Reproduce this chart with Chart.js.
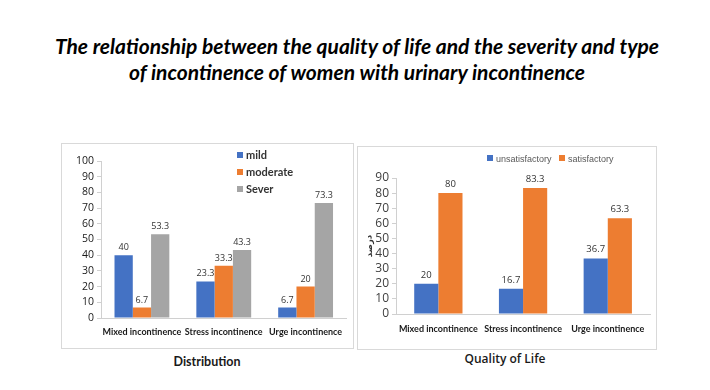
<!DOCTYPE html>
<html>
<head>
<meta charset="utf-8">
<script src="https://cdn.jsdelivr.net/npm/chart.js@4.4.0/dist/chart.umd.min.js"></script>
<style>
  html, body { margin: 0; padding: 0; background: #fff; }
  body { width: 710px; height: 390px; position: relative; overflow: hidden; font-family: Lato, "Open Sans", sans-serif; }
  .title { position: absolute; left: 0; width: 714px; text-align: center; font-weight: bold; font-style: italic; font-size: 21px; color: #000; line-height: 26px; top: 33px; }
  .panel { position: absolute; border: 1.5px solid #d9d9d9; box-sizing: border-box; }
  .panel canvas { position: absolute; left: 0; top: 0; }
  .caption { position: absolute; font-weight: bold; font-size: 12.5px; color: #1a1a1a; transform: translateX(-50%); white-space: nowrap; }
  .legend { position: absolute; font-size: 11px; font-weight: bold; color: #333; }
  .legend .item { position: absolute; white-space: nowrap; }
  .legend .sw { display: inline-block; width: 6px; height: 6px; margin-right: 3px; vertical-align: 1px; }
</style>
</head>
<body>
<div class="title">The relationship between the quality of life and the severity and type<br>of incontinence of women with urinary incontinence</div>

<div class="panel" id="leftPanel" style="left:61px; top:143px; width:293px; height:206px;">
  <canvas id="severityChart"></canvas>
  <div class="legend" id="severityLegend"></div>
</div>
<div class="panel" id="rightPanel" style="left:357px; top:146px; width:300px; height:204px;">
  <canvas id="qolChart"></canvas>
  <div class="legend" id="qolLegend"></div>
</div>

<div class="caption" style="left:207px; top:354px;">Distribution</div>
<div class="caption" style="left:505px; top:350px; font-weight:600; font-family:'Open Sans', sans-serif; font-size:12px;">Quality of Life</div>

<script>
const categories = ["Mixed incontinence", "Stress incontinence", "Urge incontinence"];

const severityLabels = ["mild", "moderate", "Sever"];
const mildValues = [40, 23.3, 6.7];
const moderateValues = [6.7, 33.3, 20];
const severValues = [53.3, 43.3, 73.3];

const qolLabels = ["unsatisfactory", "satisfactory"];
const unsatisfactoryValues = [20, 16.7, 36.7];
const satisfactoryValues = [80, 83.3, 63.3];

const colors = {
  blue: "#4472C4",
  orange: "#ED7D31",
  gray: "#A5A5A5",
};

// draws the value above each bar, like the excel data labels
const valueLabels = {
  id: "valueLabels",
  afterDatasetsDraw(chart, args, opts) {
    const ctx = chart.ctx;
    ctx.save();
    ctx.font = opts.font;
    ctx.fillStyle = opts.color;
    ctx.textAlign = "center";
    ctx.textBaseline = "bottom";
    chart.data.datasets.forEach((ds, i) => {
      chart.getDatasetMeta(i).data.forEach((bar, j) => {
        ctx.fillText(String(ds.data[j]), bar.x, bar.y - opts.offset);
      });
    });
    ctx.restore();
  },
};

function buildLegend(el, labels, swatches, positions) {
  labels.forEach((label, i) => {
    const item = document.createElement("div");
    item.className = "item";
    item.style.left = positions[i][0] + "px";
    item.style.top = positions[i][1] + "px";
    item.innerHTML = `<span class="sw" style="background:${swatches[i]}"></span>${label}`;
    el.appendChild(item);
  });
}

function makeChart(canvas, cfg) {
  canvas.width = cfg.width;
  canvas.height = cfg.height;
  canvas.style.width = cfg.width + "px";
  canvas.style.height = cfg.height + "px";

  return new Chart(canvas, {
    type: "bar",
    data: {
      labels: categories,
      datasets: cfg.datasets.map((d) => ({
        label: d.label,
        data: d.data,
        backgroundColor: d.color,
        borderWidth: 0,
        categoryPercentage: cfg.categoryPercentage,
        barPercentage: 1,
      })),
    },
    plugins: [valueLabels],
    options: {
      responsive: false,
      animation: false,
      devicePixelRatio: 1,
      layout: { padding: cfg.padding },
      plugins: {
        legend: { display: false },
        tooltip: { enabled: false },
        valueLabels: cfg.valueLabels,
      },
      scales: {
        x: {
          grid: { display: false, drawTicks: false },
          border: { color: "#d0d0d0", width: 1 },
          ticks: {
            padding: cfg.xPadding,
            color: "#1a1a1a",
            font: { family: "Lato", size: cfg.xFontSize, weight: "bold" },
            maxRotation: 0,
            autoSkip: false,
          },
          afterFit: (scale) => { scale.height = cfg.xHeight; },
        },
        y: {
          min: 0,
          max: cfg.yMax,
          grid: { display: true, drawOnChartArea: false, drawTicks: true, tickLength: 4, color: "#d0d0d0" },
          border: { color: "#d0d0d0", width: 1 },
          ticks: {
            stepSize: 10,
            autoSkip: false,
            padding: 3,
            color: cfg.yColor,
            font: { family: "Open Sans", size: cfg.yFontSize },
          },
          title: cfg.yTitle,
          afterFit: (scale) => { scale.width = cfg.yWidth; },
        },
      },
    },
  });
}

makeChart(document.querySelector("#severityChart"), {
  width: 290,
  height: 203,
  padding: { left: 0, right: 5, top: 17, bottom: 0 },
  categoryPercentage: 0.67,
  yMax: 100,
  yWidth: 39,
  yFontSize: 10.5,
  yColor: "#1a1a1a",
  yTitle: { display: false },
  xHeight: 29,
  xPadding: 9,
  xFontSize: 9,
  valueLabels: { font: "9px 'Open Sans'", color: "#333", offset: 3 },
  datasets: [
    { label: severityLabels[0], data: mildValues, color: colors.blue },
    { label: severityLabels[1], data: moderateValues, color: colors.orange },
    { label: severityLabels[2], data: severValues, color: colors.gray },
  ],
});

makeChart(document.querySelector("#qolChart"), {
  width: 297,
  height: 201,
  padding: { left: 0, right: 4, top: 31, bottom: 0 },
  categoryPercentage: 0.57,
  yMax: 90,
  yWidth: 38,
  yFontSize: 12,
  yColor: "#404040",
  yTitle: {
    display: true,
    text: "درصد",
    color: "#333",
    font: { family: "DejaVu Sans", size: 8.5, weight: "bold" },
    padding: { top: 7, bottom: 0 },
  },
  xHeight: 34,
  xPadding: 10,
  xFontSize: 9,
  valueLabels: { font: "9.5px 'Open Sans'", color: "#333", offset: 4 },
  datasets: [
    { label: qolLabels[0], data: unsatisfactoryValues, color: colors.blue },
    { label: qolLabels[1], data: satisfactoryValues, color: colors.orange },
  ],
});

buildLegend(document.querySelector("#severityLegend"), severityLabels,
  [colors.blue, colors.orange, colors.gray], [[175, 4], [175, 21], [175, 38]]);

const qolLegend = document.querySelector("#qolLegend");
qolLegend.style.fontWeight = "normal";
qolLegend.style.fontSize = "9px";
qolLegend.style.color = "#595959";
qolLegend.style.fontFamily = "'Liberation Sans', sans-serif";
buildLegend(qolLegend, qolLabels, [colors.blue, colors.orange], [[129, 7], [201, 7]]);
</script>
</body>
</html>
